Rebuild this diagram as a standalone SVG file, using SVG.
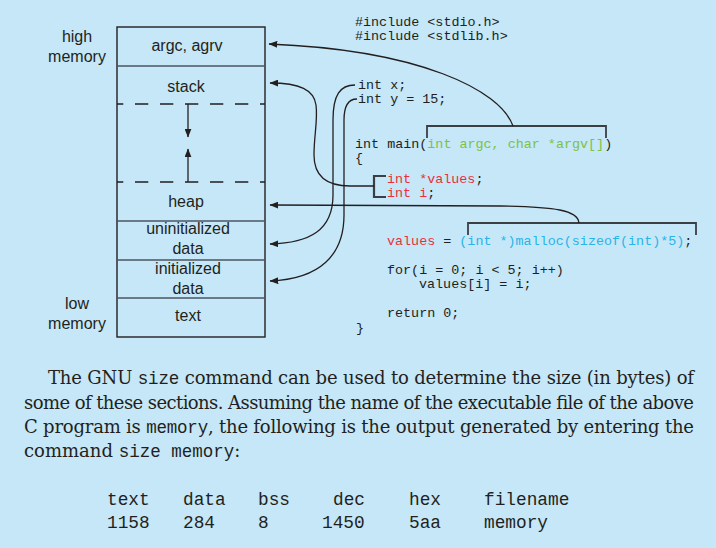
<svg xmlns="http://www.w3.org/2000/svg" width="716" height="548" viewBox="0 0 716 548">
<defs>
<style>
.lbl{font-family:"Liberation Sans",Arial,sans-serif;font-size:16px;fill:#231F20;text-anchor:middle}
.code{font-family:"Liberation Mono","Courier New",monospace;font-size:13.4px;fill:#231F20;white-space:pre}
.grn{fill:#7CC242}
.red{fill:#EC2E3A}
.cyn{fill:#27B4E8}
.box{fill:none;stroke:#231F20;stroke-width:1.4}
.sep{stroke:#4A5560;stroke-width:1.4}
.dash{stroke:#231F20;stroke-width:1.3;stroke-dasharray:13.3 11.7;stroke-dashoffset:7}
.con{fill:none;stroke:#231F20;stroke-width:1.3;marker-end:url(#ah)}
.brk{fill:none;stroke:#3A3F44;stroke-width:1.8}
.para{font-family:"DejaVu Serif","Liberation Serif",serif;font-size:18px;fill:#231F20;white-space:pre}
.mono{font-family:"Liberation Mono","Courier New",monospace;font-size:17.5px}
.tbl{font-family:"Liberation Mono","Courier New",monospace;font-size:17.8px;fill:#231F20;white-space:pre}
</style>
<marker id="ah" viewBox="0 0 10 8" refX="9.5" refY="4" markerWidth="9" markerHeight="7" markerUnits="userSpaceOnUse" orient="auto">
<path d="M0,0 L10,4 L0,8 Z" fill="#231F20"/>
</marker>
</defs>
<rect width="716" height="548" fill="#C5E7F8"/>

<g id="memory-labels">
<text class="lbl" x="77" y="42">high</text>
<text class="lbl" x="77" y="62">memory</text>
<text class="lbl" x="77" y="309">low</text>
<text class="lbl" x="77" y="329">memory</text>
</g>

<g id="memory-layout">
<rect class="box" x="117" y="27" width="148" height="310"/>
<line class="sep" x1="117" y1="66" x2="265" y2="66"/>
<line class="dash" x1="117" y1="104" x2="265" y2="104"/>
<line class="dash" x1="117" y1="182" x2="265" y2="182"/>
<line class="sep" x1="117" y1="221" x2="265" y2="221"/>
<line class="sep" x1="117" y1="260" x2="265" y2="260"/>
<line class="sep" x1="117" y1="298" x2="265" y2="298"/>
<path class="con" d="M188,104 L188,137"/>
<path class="con" d="M188,182 L188,149"/>
</g>

<g id="seg-argc"><text class="lbl" x="187" y="51">argc, agrv</text></g>
<g id="seg-stack"><text class="lbl" x="186" y="92">stack</text></g>
<g id="seg-heap"><text class="lbl" x="186" y="207">heap</text></g>
<g id="seg-uninit"><text class="lbl" x="188" y="234">uninitialized</text><text class="lbl" x="188" y="254">data</text></g>
<g id="seg-init"><text class="lbl" x="188" y="274">initialized</text><text class="lbl" x="188" y="294">data</text></g>
<g id="seg-text"><text class="lbl" x="188" y="321">text</text></g>

<g id="code-includes">
<text class="code" x="355" y="26">#include &lt;stdio.h&gt;</text>
<text class="code" x="355" y="40">#include &lt;stdlib.h&gt;</text>
</g>

<g id="code-globals">
<text class="code" x="358" y="89">int x;</text>
<text class="code" x="358" y="103">int y = 15;</text>
</g>

<g id="code-main">
<text class="code" x="355" y="148">int main(<tspan class="grn">int argc, char *argv[]</tspan>)</text>
<text class="code" x="355" y="162">{</text>
<path class="brk" d="M427,138 L427,126 L606,126 L606,138"/>
</g>

<g id="code-locals">
<text class="code red" x="387" y="182.5">int *values<tspan style="fill:#231F20">;</tspan></text>
<text class="code red" x="387" y="196.5">int i<tspan style="fill:#231F20">;</tspan></text>
<path class="brk" d="M386,176 L374,176 L374,197 L386,197" style="stroke-width:2.2"/>
</g>

<g id="code-body">
<text class="code" x="387" y="245"><tspan class="red">values</tspan> = <tspan class="cyn">(int *)malloc(sizeof(int)*5)</tspan>;</text>
<path class="brk" d="M468,235 L468,223 L696,223 L696,235"/>
<text class="code" x="387" y="274">for(i = 0; i &lt; 5; i++)</text>
<text class="code" x="419" y="288">values[i] = i;</text>
<text class="code" x="387" y="317">return 0;</text>
<text class="code" x="356" y="332">}</text>
</g>

<g id="connectors">
<path class="con" d="M513,126 C500,90 420,50 269,44"/>
<path class="con" d="M374,186 L350,186 C325,186 314,175 314,155 C314,135 318,120 316,105 C314,90 300,83 270,83"/>
<path class="con" d="M579,223 C578,210 555,207 500,206 L270,205"/>
<path class="con" d="M355,85 C340,85 333,95 333,120 L333,195 C333,230 310,243 270,244"/>
<path class="con" d="M357,99 C348,99 344,106 344,120 L344,215 C344,255 320,279 270,281"/>
</g>

<g id="paragraph">
<text class="para" x="48" y="384" textLength="646" lengthAdjust="spacing">The GNU <tspan class="mono">size</tspan> command can be used to determine the size (in bytes) of</text>
<text class="para" x="24" y="408.5" textLength="670" lengthAdjust="spacing">some of these sections. Assuming the name of the executable file of the above</text>
<text class="para" x="24" y="432.5" textLength="670" lengthAdjust="spacing">C program is <tspan class="mono">memory</tspan>, the following is the output generated by entering the</text>
<text class="para" x="24" y="456.5">command <tspan class="mono">size memory</tspan>:</text>
</g>

<g id="size-output">
<text class="tbl" x="107" y="505">text</text>
<text class="tbl" x="183" y="505">data</text>
<text class="tbl" x="258" y="505">bss</text>
<text class="tbl" x="333" y="505">dec</text>
<text class="tbl" x="409" y="505">hex</text>
<text class="tbl" x="484" y="505">filename</text>
<text class="tbl" x="107" y="528">1158</text>
<text class="tbl" x="183" y="528">284</text>
<text class="tbl" x="258" y="528">8</text>
<text class="tbl" x="322" y="528">1450</text>
<text class="tbl" x="409" y="528">5aa</text>
<text class="tbl" x="484" y="528">memory</text>
</g>
</svg>
